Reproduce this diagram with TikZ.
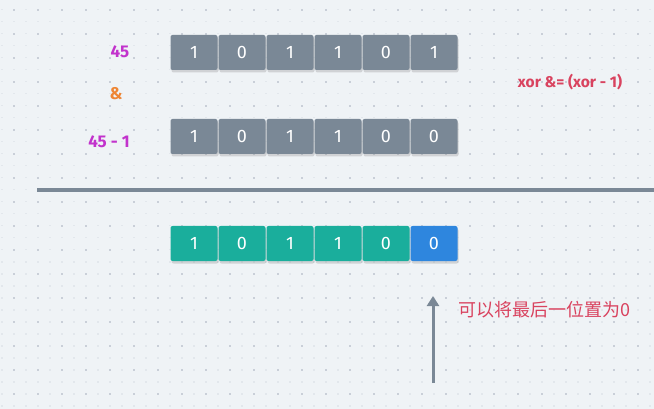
\documentclass[tikz,border=0pt]{standalone}
\usepackage{fontspec}
\setmainfont{Fira Sans}
\newfontfamily\cjk{Noto Sans CJK SC}
\usepackage{xcolor}
\usetikzlibrary{arrows.meta, positioning, shadows}
\definecolor{bgpaper}{HTML}{EFF3F6}
\definecolor{dotdark}{HTML}{C9CFD8}
\definecolor{dotlight}{HTML}{E2E7EC}
\definecolor{bitgray}{HTML}{7A8896}
\definecolor{bitteal}{HTML}{1AAE9C}
\definecolor{bitblue}{HTML}{2E86DE}
\definecolor{numpurple}{HTML}{C233CC}
\definecolor{oporange}{HTML}{EE8533}
\definecolor{notered}{HTML}{D9435F}

\tikzset{
  bitcell/.style={rounded corners=2pt, minimum width=47pt, minimum height=35pt,
    inner sep=0pt, text=white, font=\fontsize{18}{20}\selectfont,
    drop shadow={opacity=0.28, shadow xshift=1pt, shadow yshift=-2.5pt}},
  numlabel/.style={font=\fontsize{17}{20}\selectfont\bfseries, text=numpurple},
}

\begin{document}
\begin{tikzpicture}[x=1pt, y=-1pt]
  \useasboundingbox (0,0) rectangle (654,409);
  \fill[bgpaper] (0,0) rectangle (654,409);

  %% --- dot grid ---
  \foreach \i in {0,...,54} {
    \foreach \j in {0,...,33} {
      \fill[dotlight] (1.7+12*\i-0.8, 9.7+12*\j-0.8) rectangle ++(1.6,1.6);
    }
  }
  \foreach \i in {0,...,26} {
    \foreach \j in {0,...,16} {
      \fill[dotdark] (13.7+24*\i-1, 9.7+24*\j-1) rectangle ++(2,2);
    }
  }

  %% --- operand rows ---
  \foreach \k/\b in {0/1, 1/0, 2/1, 3/1, 4/0, 5/1}
    \node[bitcell, fill=bitgray] (top\k) at (194+48*\k, 52.5) {\b};
  \foreach \k/\b in {0/1, 1/0, 2/1, 3/1, 4/0, 5/0}
    \node[bitcell, fill=bitgray] (mid\k) at (194+48*\k, 136.5) {\b};

  \node[numlabel] (numA) at (120, 52) {45};
  \node[font=\fontsize{17}{20}\selectfont\bfseries, text=oporange] (andop) at (116, 94) {\&};
  \node[numlabel] (numB) at (109, 142) {45 - 1};
  \node[font=\fontsize{15.5}{18}\selectfont\bfseries, text=notered] (rule) at (570, 82)
    {xor \&= (xor - 1)};

  %% --- divider ---
  \coordinate (lineL) at (37, 190);
  \coordinate (lineR) at (654, 190);
  \draw[bitgray, line width=4pt] (lineL) -- (lineR);

  %% --- result row ---
  \foreach \k/\b in {0/1, 1/0, 2/1, 3/1, 4/0}
    \node[bitcell, fill=bitteal] (res\k) at (194+48*\k, 243.5) {\b};
  \node[bitcell, fill=bitblue] (res5) at (434, 243.5) {0};

  %% --- pointer and note ---
  \coordinate (arrowbase) at (433, 383);
  \coordinate (arrowtip) at (433, 296);
  \draw[bitgray, line width=3pt, -{Triangle[width=12pt, length=10pt]}]
    (arrowbase) -- (arrowtip);
  \node[anchor=west, text=notered, font=\cjk\fontsize{18}{20}\selectfont,
    inner sep=0pt] (note) at (458, 310) {可以将最后一位置为0};
\end{tikzpicture}
\end{document}
